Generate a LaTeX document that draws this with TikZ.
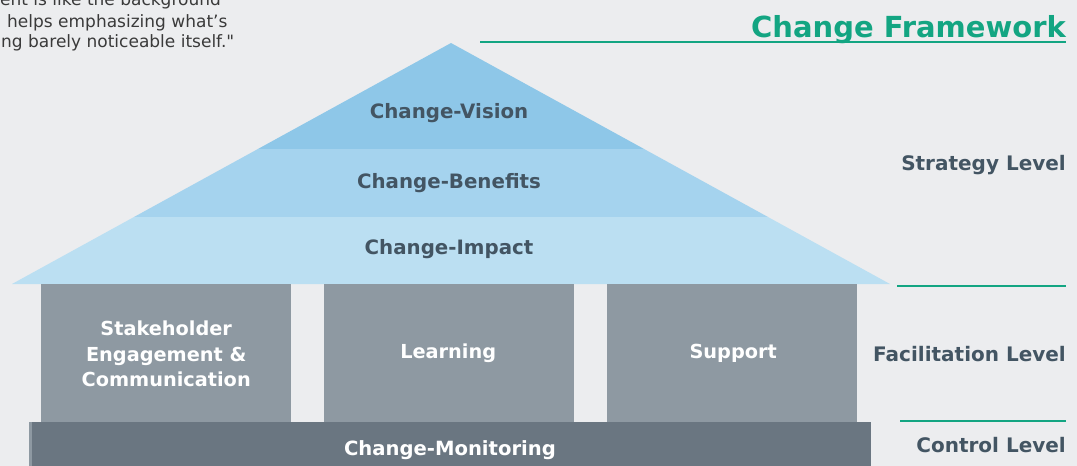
\documentclass[tikz,border=0pt]{standalone}
\usepackage{fontspec}
\setmainfont{DejaVu Sans}
\newfontfamily\qfont{DejaVu Sans}[Ligatures=TeXOff]
\definecolor{bg}{HTML}{ECEDEF}
\definecolor{vision}{HTML}{8EC7E8}
\definecolor{benefit}{HTML}{A5D3EE}
\definecolor{impact}{HTML}{BBDFF2}
\definecolor{pillar}{HTML}{8E99A2}
\definecolor{basec}{HTML}{6A7681}
\definecolor{darktxt}{HTML}{435563}
\definecolor{greenc}{HTML}{13A582}
\definecolor{quotec}{HTML}{3A3A3A}
\tikzset{
  roofbox/.style={font=\fontsize{19.8}{24}\selectfont\bfseries, text=darktxt, inner sep=0pt},
  pillarbox/.style={fill=pillar, minimum width=250pt, minimum height=138pt, inner sep=0pt, anchor=north west},
  pillartxt/.style={font=\fontsize{19.3}{25.5}\selectfont\bfseries, text=white, align=center},
  leveltxt/.style={font=\fontsize{20}{26}\selectfont\bfseries, text=darktxt, anchor=base east, inner sep=0pt},
  quotetxt/.style={font=\fontsize{17}{20}\selectfont\qfont, text=quotec, anchor=base west, inner sep=0pt},
  greenline/.style={draw=greenc, line width=2pt},
}
\begin{document}
\begin{tikzpicture}[x=1pt,y=-1pt]
\useasboundingbox (0,0) rectangle (1077,466);
\fill[bg] (0,0) rectangle (1077,466);
% quote (cut off at left)
\node[quotetxt] (q1) at (0,5) {ent is like the background};
\node[quotetxt] (q2) at (7,27) {helps emphasizing what’s};
\node[quotetxt] (q3) at (1,47) {ng barely noticeable itself."};
% title
\node[font=\fontsize{29}{34}\selectfont\bfseries, text=greenc, anchor=base east, inner sep=0pt] (title) at (1066,37) {Change Framework};
\coordinate (t1) at (480,42);
\coordinate (t2) at (1066,42);
\draw[greenline] (t1) -- (t2);
% roof
\fill[vision] (451,43) -- (644.1,149) -- (257.9,149) -- cycle;
\fill[benefit] (257.9,149) -- (644.1,149) -- (768,217) -- (134,217) -- cycle;
\fill[impact] (134,217) -- (768,217) -- (890,284) -- (12,284) -- cycle;
\node[roofbox, anchor=base] (vis) at (449,118) {Change-Vision};
\node[roofbox, anchor=base] (ben) at (449,188) {Change-Benefits};
\node[roofbox, anchor=base] (imp) at (449,254) {Change-Impact};
% pillars
\node[pillarbox] (p1) at (41,284) {};
\node[pillarbox] (p2) at (324,284) {};
\node[pillarbox] (p3) at (607,284) {};
\node[pillartxt] (p1t) at ([yshift=-1pt]p1.center) {Stakeholder\\Engagement \&\\Communication};
\node[pillartxt] (p2t) at ([xshift=-1pt]p2.center) {Learning};
\node[pillartxt] (p3t) at ([xshift=1pt]p3.center) {Support};
% base
\fill[pillar] (29,422) rectangle (32,466);
\fill[basec] (32,422) rectangle (871,466);
\node[font=\fontsize{19.6}{26}\selectfont\bfseries, text=white, anchor=base, inner sep=0pt] (mon) at (450,455) {Change-Monitoring};
% levels
\node[leveltxt] (strat) at (1066,170) {Strategy Level};
\coordinate (l1a) at (897,286);
\coordinate (l1b) at (1066,286);
\draw[greenline] (l1a) -- (l1b);
\node[leveltxt] (facil) at (1066,361) {Facilitation Level};
\coordinate (l2a) at (900,421);
\coordinate (l2b) at (1066,421);
\draw[greenline] (l2a) -- (l2b);
\node[leveltxt] (ctrl) at (1066,452) {Control Level};
\end{tikzpicture}
\end{document}
